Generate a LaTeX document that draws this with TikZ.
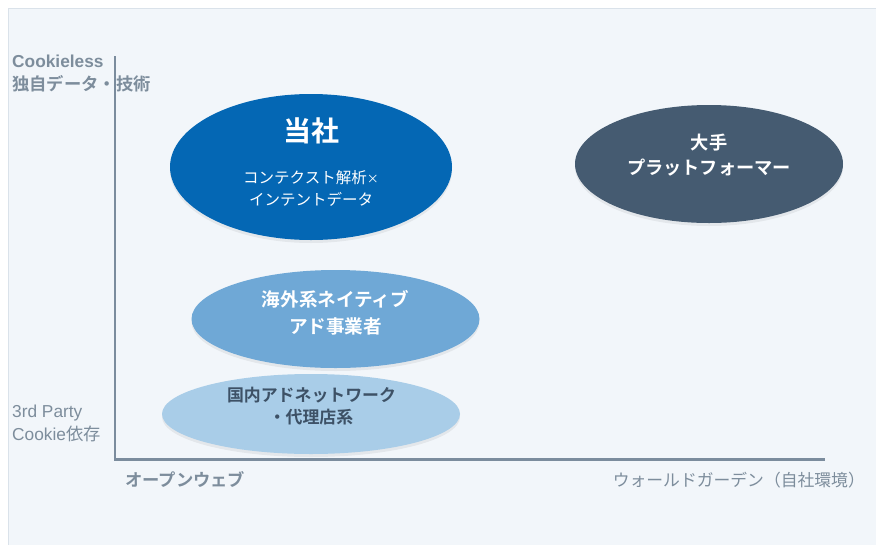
\documentclass[tikz,border=0pt]{standalone}
\usepackage{fontspec}
\setmainfont{Liberation Sans}
\newfontfamily\jp{Noto Sans CJK JP}[BoldFont={Noto Sans CJK JP Bold}]
\usetikzlibrary{shapes.geometric}
\definecolor{panelfill}{HTML}{F2F6FA}
\definecolor{panelborder}{HTML}{DAE2EA}
\definecolor{axiscol}{HTML}{7B8C9D}
\definecolor{lblcol}{HTML}{7D8D9C}
\definecolor{cTosha}{HTML}{0467B4}
\definecolor{cOte}{HTML}{455B71}
\definecolor{cKaigai}{HTML}{6FA8D6}
\definecolor{cKokunai}{HTML}{A9CDE8}
\definecolor{darktext}{HTML}{3D5166}
\begin{document}
\begin{tikzpicture}[x=1pt,y=-1pt,
  blob/.style={ellipse, inner sep=0pt, draw=none},
  shadowblob/.style={ellipse, inner sep=0pt, draw=none, fill=black, opacity=0.06},
  axisline/.style={draw=axiscol, line width=2.4pt},
  lbl/.style={text=lblcol, inner sep=0pt, font=\fontsize{17.3}{20}\selectfont},
  txt/.style={inner sep=0pt, anchor=base}
]
\useasboundingbox (0,0) rectangle (876,544);
\begin{scope}
\clip (0,0) rectangle (876,544);
\draw[draw=panelborder, fill=panelfill, line width=1pt] (8.5,8.5) rectangle (890,560);
\end{scope}

% shadows
\node[shadowblob, minimum width=282, minimum height=146] (toshaS) at (311,170) {};
\node[shadowblob, minimum width=268, minimum height=118] (oteS) at (709,167) {};
\node[shadowblob, minimum width=288, minimum height=98] (kaigaiS) at (335.5,322) {};
\node[shadowblob, minimum width=298, minimum height=80] (kokunaiS) at (311,417) {};

% ellipses
\node[blob, fill=cTosha, minimum width=282, minimum height=146] (tosha) at (311,167) {};
\node[blob, fill=cOte, minimum width=268, minimum height=118] (ote) at (709,164) {};
\node[blob, fill=cKaigai, minimum width=288, minimum height=98] (kaigai) at (335.5,319) {};
\node[blob, fill=cKokunai, minimum width=298, minimum height=80] (kokunai) at (311,414) {};

% axes
\coordinate (ytop) at (115,56);
\coordinate (origin) at (115,459.5);
\coordinate (xend) at (825,459.5);
\draw[axisline] (ytop) -- (origin) -- (xend);

% texts in ellipses
\node[txt, text=white, font=\jp\bfseries\fontsize{28}{32}\selectfont] (t1a) at (311,141) {当社};
\node[txt, text=white, font=\jp\fontsize{15.5}{19}\selectfont] (t1b) at (311,183) {コンテクスト解析{\fontsize{12}{19}\selectfont ×}};
\node[txt, text=white, font=\jp\fontsize{15.5}{19}\selectfont] (t1c) at (311,205) {インテントデータ};

\node[txt, text=white, font=\jp\bfseries\fontsize{18.2}{20}\selectfont] (t2a) at (709,149) {大手};
\node[txt, text=white, font=\jp\bfseries\fontsize{18.2}{20}\selectfont] (t2b) at (709,174) {プラットフォーマー};

\node[txt, text=white, font=\jp\bfseries\fontsize{18.6}{20}\selectfont] (t3a) at (335.5,306) {海外系ネイティブ};
\node[txt, text=white, font=\jp\bfseries\fontsize{18.6}{20}\selectfont] (t3b) at (335.5,333) {アド事業者};

\node[txt, text=darktext, font=\jp\bfseries\fontsize{16.9}{20}\selectfont] (t4a) at (311.5,401) {国内アドネットワーク};
\node[txt, text=darktext, font=\jp\bfseries\fontsize{16.9}{20}\selectfont] (t4b) at (311,423) {・代理店系};

% axis labels
\node[lbl, anchor=base west, font=\bfseries\fontsize{17.3}{20}\selectfont] (yhi1) at (12,67) {Cookieless};
\node[lbl, anchor=base west, font=\jp\bfseries\fontsize{17.3}{20}\selectfont] (yhi2) at (12,90) {独自データ・技術};
\node[lbl, anchor=base west] (ylo1) at (12,417) {3rd Party};
\node[lbl, anchor=base west] (ylo2) at (12,440) {Cookie{\jp 依存}};
\node[lbl, anchor=base west, font=\jp\bfseries\fontsize{17.3}{20}\selectfont] (xlo) at (125,486) {オープンウェブ};
\node[lbl, anchor=base east, font=\jp\fontsize{16.8}{20}\selectfont] (xhi) at (865,486) {ウォールドガーデン（自社環境）};
\end{tikzpicture}
\end{document}
